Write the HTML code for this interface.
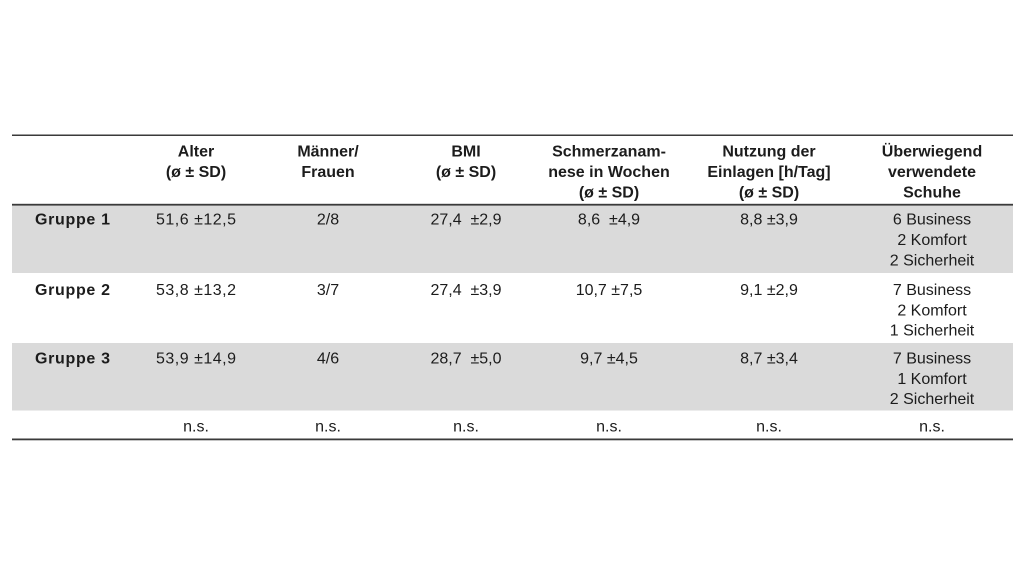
<!DOCTYPE html>
<html><head><meta charset="utf-8"><style>
html,body{margin:0;padding:0;background:#fff;}
svg{display:block;}
text{font-family:"Liberation Sans",Arial,sans-serif;font-size:16px;fill:#1c1c1c;white-space:pre;}
.b{font-weight:bold;}
.c{text-anchor:middle;}
</style></head><body>
<svg width="1024" height="576" viewBox="0 0 1024 576" xmlns="http://www.w3.org/2000/svg">
<rect x="0" y="0" width="1024" height="576" fill="#fff"/>
<rect x="12" y="205.5" width="1001" height="67.5" fill="#dadada"/>
<rect x="12" y="343" width="1001" height="67.5" fill="#dadada"/>
<rect x="12" y="134.5" width="1001" height="1.5" fill="#3a3a3a"/>
<rect x="12" y="203.8" width="1001" height="1.8" fill="#3a3a3a"/>
<rect x="12" y="438.5" width="1001" height="1.8" fill="#3a3a3a"/>

<!-- header -->
<text class="b c" x="196" y="156.5">Alter</text>
<text class="b c" x="196" y="177">(ø ± SD)</text>
<text class="b c" x="328" y="156.5">Männer/</text>
<text class="b c" x="328" y="177">Frauen</text>
<text class="b c" x="466" y="156.5">BMI</text>
<text class="b c" x="466" y="177">(ø ± SD)</text>
<text class="b c" x="609" y="156.5">Schmerzanam-</text>
<text class="b c" x="609" y="177">nese in Wochen</text>
<text class="b c" x="609" y="197.5">(ø ± SD)</text>
<text class="b c" x="769" y="156.5">Nutzung der</text>
<text class="b c" x="769" y="177">Einlagen [h/Tag]</text>
<text class="b c" x="769" y="197.5">(ø ± SD)</text>
<text class="b c" x="932" y="156.5">Überwiegend</text>
<text class="b c" x="932" y="177">verwendete</text>
<text class="b c" x="932" y="197.5">Schuhe</text>

<!-- Gruppe 1 -->
<text class="b" x="35" y="224.5" textLength="75" lengthAdjust="spacing">Gruppe 1</text>
<text class="c" x="196" y="224.5" textLength="80" lengthAdjust="spacing">51,6 ±12,5</text>
<text class="c" x="328" y="224.5">2/8</text>
<text class="c" x="466" y="224.5">27,4  ±2,9</text>
<text class="c" x="609" y="224.5">8,6  ±4,9</text>
<text class="c" x="769" y="224.5">8,8 ±3,9</text>
<text class="c" x="932" y="224.5">6 Business</text>
<text class="c" x="932" y="245">2 Komfort</text>
<text class="c" x="932" y="265.5">2 Sicherheit</text>

<!-- Gruppe 2 -->
<text class="b" x="35" y="295" textLength="75" lengthAdjust="spacing">Gruppe 2</text>
<text class="c" x="196" y="295" textLength="80" lengthAdjust="spacing">53,8 ±13,2</text>
<text class="c" x="328" y="295">3/7</text>
<text class="c" x="466" y="295">27,4  ±3,9</text>
<text class="c" x="609" y="295">10,7 ±7,5</text>
<text class="c" x="769" y="295">9,1 ±2,9</text>
<text class="c" x="932" y="295">7 Business</text>
<text class="c" x="932" y="315.5">2 Komfort</text>
<text class="c" x="932" y="335.5">1 Sicherheit</text>

<!-- Gruppe 3 -->
<text class="b" x="35" y="363.5" textLength="75" lengthAdjust="spacing">Gruppe 3</text>
<text class="c" x="196" y="363.5" textLength="80" lengthAdjust="spacing">53,9 ±14,9</text>
<text class="c" x="328" y="363.5">4/6</text>
<text class="c" x="466" y="363.5">28,7  ±5,0</text>
<text class="c" x="609" y="363.5">9,7 ±4,5</text>
<text class="c" x="769" y="363.5">8,7 ±3,4</text>
<text class="c" x="932" y="363.5">7 Business</text>
<text class="c" x="932" y="384">1 Komfort</text>
<text class="c" x="932" y="404">2 Sicherheit</text>

<!-- n.s. -->
<text class="c" x="196" y="431.5">n.s.</text>
<text class="c" x="328" y="431.5">n.s.</text>
<text class="c" x="466" y="431.5">n.s.</text>
<text class="c" x="609" y="431.5">n.s.</text>
<text class="c" x="769" y="431.5">n.s.</text>
<text class="c" x="932" y="431.5">n.s.</text>
</svg>
</body></html>
